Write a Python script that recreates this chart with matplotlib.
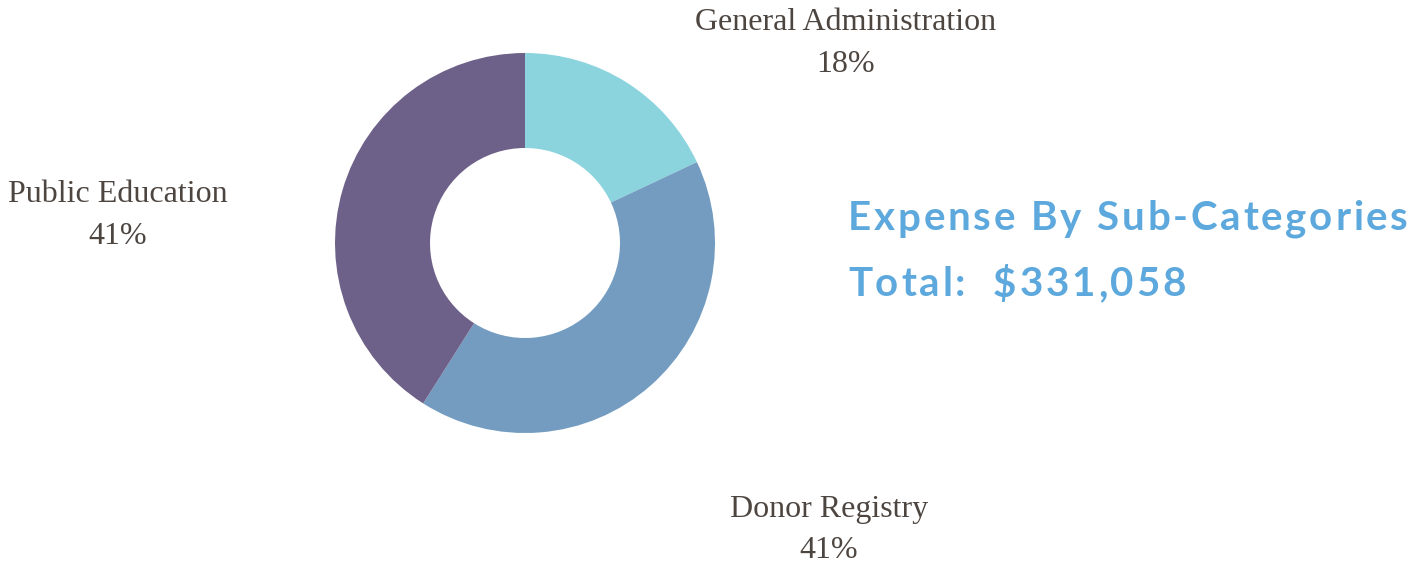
import matplotlib.pyplot as plt

categories = ['General Administration', 'Donor Registry', 'Public Education']
shares = [18, 41, 41]
colors = ['#8BD4DE', '#739CC0', '#6E6189']
title = 'Expense By Sub-Categories'
total = 'Total:  $331,058'

W, H = 1423, 563
fig = plt.figure(figsize=(W / 100, H / 100), dpi=100)
ax = fig.add_axes([0, 0, 1, 1])

ax.pie(shares, colors=colors, startangle=90, counterclock=False,
       center=(525, H - 243), radius=190,
       wedgeprops=dict(width=95, linewidth=0))

# pie() resets the limits, so set them afterwards
ax.set_xlim(0, W)
ax.set_ylim(0, H)
ax.set_aspect('equal')
ax.axis('off')

# label positions in pixels (x centre, y of name line)
label_pos = [(846, 22), (829, 509), (118, 195)]
serif = ['Liberation Serif', 'DejaVu Serif']
for name, pct, (x, y) in zip(categories, shares, label_pos):
    ax.text(x, H - y, name, ha='center', va='center', fontsize=23,
            color='#4D4540', family=serif)
    ax.text(x, H - y - 42, '%d%%' % pct, ha='center', va='center',
            fontsize=23, color='#4D4540', family=serif)


def spaced_text(x, y, s, spacing, **kw):
    # draw a string one glyph at a time to get letter spacing
    renderer = fig.canvas.get_renderer()
    a = ax.text(0, 0, 'a a', **kw)
    b = ax.text(0, 0, 'aa', **kw)
    space_w = a.get_window_extent(renderer).width - b.get_window_extent(renderer).width
    a.remove()
    b.remove()
    for ch in s:
        if ch == ' ':
            w = space_w
        else:
            t = ax.text(x, y, ch, ha='left', va='center', **kw)
            w = t.get_window_extent(renderer).width
        x += w + spacing


style = dict(fontsize=29, fontweight='bold', family='Lato', color='#5DA8DC')
spaced_text(848, H - 219, title, 2.8, **style)
spaced_text(848, H - 285, total, 2.8, **style)

fig.savefig('out.png', dpi=100)
